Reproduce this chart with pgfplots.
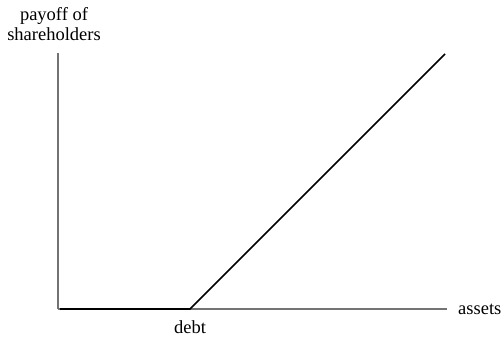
\documentclass[border=0pt]{standalone}
\usepackage{pgfplots}
\pgfplotsset{compat=1.18}
\usepackage{fontspec}
\setmainfont{Liberation Serif}
\begin{document}
\begin{tikzpicture}[x=1pt,y=1pt]
\path (0,0) rectangle (504,342);
\begin{axis}[
  at={(58pt,33pt)}, anchor=south west,
  scale only axis, width=389pt, height=256pt,
  xmin=0, xmax=389, ymin=0, ymax=256,
  axis lines=left, axis line style={-, draw=black!55, line width=1.2pt},
  xtick=\empty, ytick=\empty,
  clip=false,
]
\addplot[black, line width=1.6pt] coordinates {(2,0) (132,0) (387,255)};
\end{axis}
\node[font=\fontsize{18.5}{20}\selectfont, align=center] at (54,318) {payoff of\\shareholders};
\node[font=\fontsize{18.5}{20}\selectfont, anchor=west, inner sep=0pt] at (458,33) {assets};
\node[font=\fontsize{18.5}{20}\selectfont] at (190,15) {debt};
\end{tikzpicture}
\end{document}
